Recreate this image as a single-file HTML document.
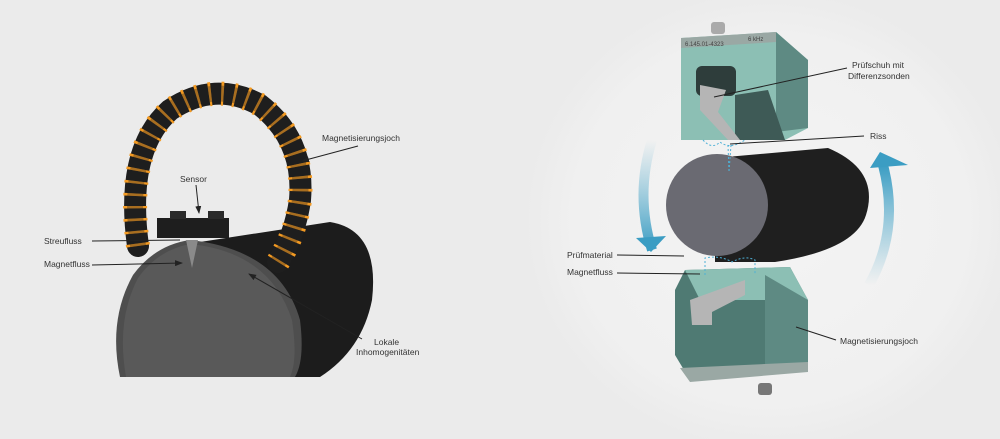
<!DOCTYPE html>
<html><head><meta charset="utf-8"><style>
html,body{margin:0;padding:0;background:#ebebeb;}
svg{display:block}
text{font-family:"Liberation Sans",sans-serif;font-size:8.5px;fill:#333}
</style></head><body>
<svg width="1000" height="439" viewBox="0 0 1000 439">
<defs>
<radialGradient id="bg" cx="0.5" cy="0.5" r="0.5"><stop offset="0" stop-color="#f4f4f4"/><stop offset="0.8" stop-color="#f0f0f0"/><stop offset="1" stop-color="#ebebeb"/></radialGradient>
<linearGradient id="ba1" x1="0" y1="0" x2="0" y2="1"><stop offset="0" stop-color="#5fb1cf" stop-opacity="0"/><stop offset="1" stop-color="#3b9dc3"/></linearGradient>
<linearGradient id="ba2" x1="0" y1="1" x2="0" y2="0"><stop offset="0" stop-color="#5fb1cf" stop-opacity="0"/><stop offset="1" stop-color="#3b9dc3"/></linearGradient>
<marker id="ar" markerWidth="8" markerHeight="6" refX="7" refY="3" orient="auto"><path d="M0,0L8,3L0,6z" fill="#222"/></marker>
</defs>
<rect width="1000" height="439" fill="#ebebeb"/>
<ellipse cx="770" cy="220" rx="245" ry="230" fill="url(#bg)"/>

<!-- LEFT -->
<path d="M200,242 L330,222 Q380,230 372,300 Q362,350 320,377 L200,377z" fill="#1c1c1c"/>
<path d="M190,240 Q280,250 300,320 Q305,360 295,377 L120,377 Q108,320 133,275 Q155,245 190,240z" fill="#4e4e4e"/>
<path d="M190,244 Q270,252 292,320 Q298,360 290,377 L126,377 Q116,320 138,278 Q158,250 190,244z" fill="#595959"/>
<path d="M186,240 L192,268 L198,240z" fill="#8a8a8a"/>
<path d="M138,246 Q125,150 170,110 Q215,80 260,105 Q305,140 300,200 Q295,235 278,262" fill="none" stroke="#1e1e1e" stroke-width="22" stroke-linecap="round"/>
<path d="M138,246 Q125,150 170,110 Q215,80 260,105 Q305,140 300,200 Q295,235 278,262" fill="none" stroke="#f39a22" stroke-width="24" stroke-dasharray="2.5 10"/>
<path d="M138,246 Q125,150 170,110 Q215,80 260,105 Q305,140 300,200 Q295,235 278,262" fill="none" stroke="#1e1e1e" stroke-width="16" stroke-dasharray="2.5 10" stroke-dashoffset="0" opacity="0.35"/>
<rect x="157" y="218" width="72" height="20" fill="#1e1e1e"/>
<rect x="170" y="211" width="16" height="8" fill="#2a2a2a"/><rect x="208" y="211" width="16" height="8" fill="#2a2a2a"/>
<text x="180" y="182">Sensor</text>
<line x1="196" y1="185" x2="199" y2="213" stroke="#222" stroke-width="1" marker-end="url(#ar)"/>
<text x="322" y="141">Magnetisierungsjoch</text>
<line x1="358" y1="146" x2="302" y2="161" stroke="#222" stroke-width="1" marker-end="url(#ar)"/>
<text x="44" y="244">Streufluss</text>
<line x1="92" y1="241" x2="180" y2="240" stroke="#222" stroke-width="1"/>
<text x="44" y="267">Magnetfluss</text>
<line x1="92" y1="265" x2="182" y2="263" stroke="#222" stroke-width="1" marker-end="url(#ar)"/>
<text x="374" y="345">Lokale</text><text x="356" y="355">Inhomogenitäten</text>
<line x1="362" y1="339" x2="249" y2="274" stroke="#222" stroke-width="1" marker-end="url(#ar)"/>

<!-- RIGHT -->
<path d="M652,140 Q635,195 652,250" fill="none" stroke="url(#ba1)" stroke-width="10"/>
<path d="M636,238 L666,236 L651,252z" fill="#3b9dc3"/>
<path d="M869,285 Q900,230 883,165" fill="none" stroke="url(#ba2)" stroke-width="10"/>
<path d="M870,168 L880,152 L908,165z" fill="#3b9dc3"/>
<path d="M715,158 L828,148 Q880,170 866,215 Q855,250 775,262 L715,262z" fill="#1f1f1f"/>
<circle cx="717" cy="205" r="51" fill="#6a6a72"/>
<!-- upper block -->
<rect x="711" y="22" width="14" height="12" rx="3" fill="#aaa"/>
<path d="M681,38 L776,32 L808,60 L808,128 L785,140 L681,140z" fill="#8cbfb4"/>
<path d="M776,32 L808,60 L808,128 L776,132z" fill="#5e8a83"/>
<path d="M735,95 L768,90 L785,140 L735,140z" fill="#3e5a56"/>
<path d="M681,38 L776,32 L776,42 L681,48z" fill="#9aa8a4"/>
<rect x="696" y="66" width="40" height="30" rx="6" fill="#2e3d3b"/>
<path d="M700,85 L726,90 L718,112 L740,140 L728,140 L700,110z" fill="#b5b5b5"/>
<text x="685" y="46" style="font-size:6px;fill:#444">6.145.01-4323</text><text x="748" y="41" style="font-size:6px;fill:#444">6 kHz</text>
<!-- lower block -->
<path d="M685,270 L790,267 L808,300 L808,370 L690,380 L675,355 L675,290z" fill="#4f7a73"/>
<path d="M685,270 L790,267 L808,300 L700,300z" fill="#8cbfb4"/>
<path d="M765,275 L808,300 L808,370 L765,372z" fill="#5e8a83"/>
<path d="M690,300 L745,280 L745,295 L712,312 L712,325 L692,325z" fill="#b5b5b5"/>
<path d="M680,368 L808,362 L808,372 L690,382z" fill="#9aa8a4"/>
<rect x="758" y="383" width="14" height="12" rx="3" fill="#777"/>
<g fill="none" stroke="#4db0d6" stroke-width="1" stroke-dasharray="2 2">
<path d="M703,140 Q712,150 720,142 Q730,150 745,140"/><path d="M728,145 L729,172 L731,145"/>
<path d="M705,275 L705,258 Q720,255 732,262 Q745,255 755,260 L755,275"/>
</g>
<text x="852" y="68">Prüfschuh mit</text><text x="848" y="79">Differenzsonden</text>
<line x1="847" y1="68" x2="714" y2="97" stroke="#222" stroke-width="1"/>
<text x="870" y="139">Riss</text>
<line x1="864" y1="136" x2="730" y2="144" stroke="#222" stroke-width="1"/>
<text x="567" y="258">Prüfmaterial</text>
<line x1="617" y1="255" x2="684" y2="256" stroke="#222" stroke-width="1"/>
<text x="567" y="275">Magnetfluss</text>
<line x1="617" y1="273" x2="700" y2="274" stroke="#222" stroke-width="1"/>
<text x="840" y="344">Magnetisierungsjoch</text>
<line x1="836" y1="340" x2="796" y2="327" stroke="#222" stroke-width="1"/>
</svg>
</body></html>
